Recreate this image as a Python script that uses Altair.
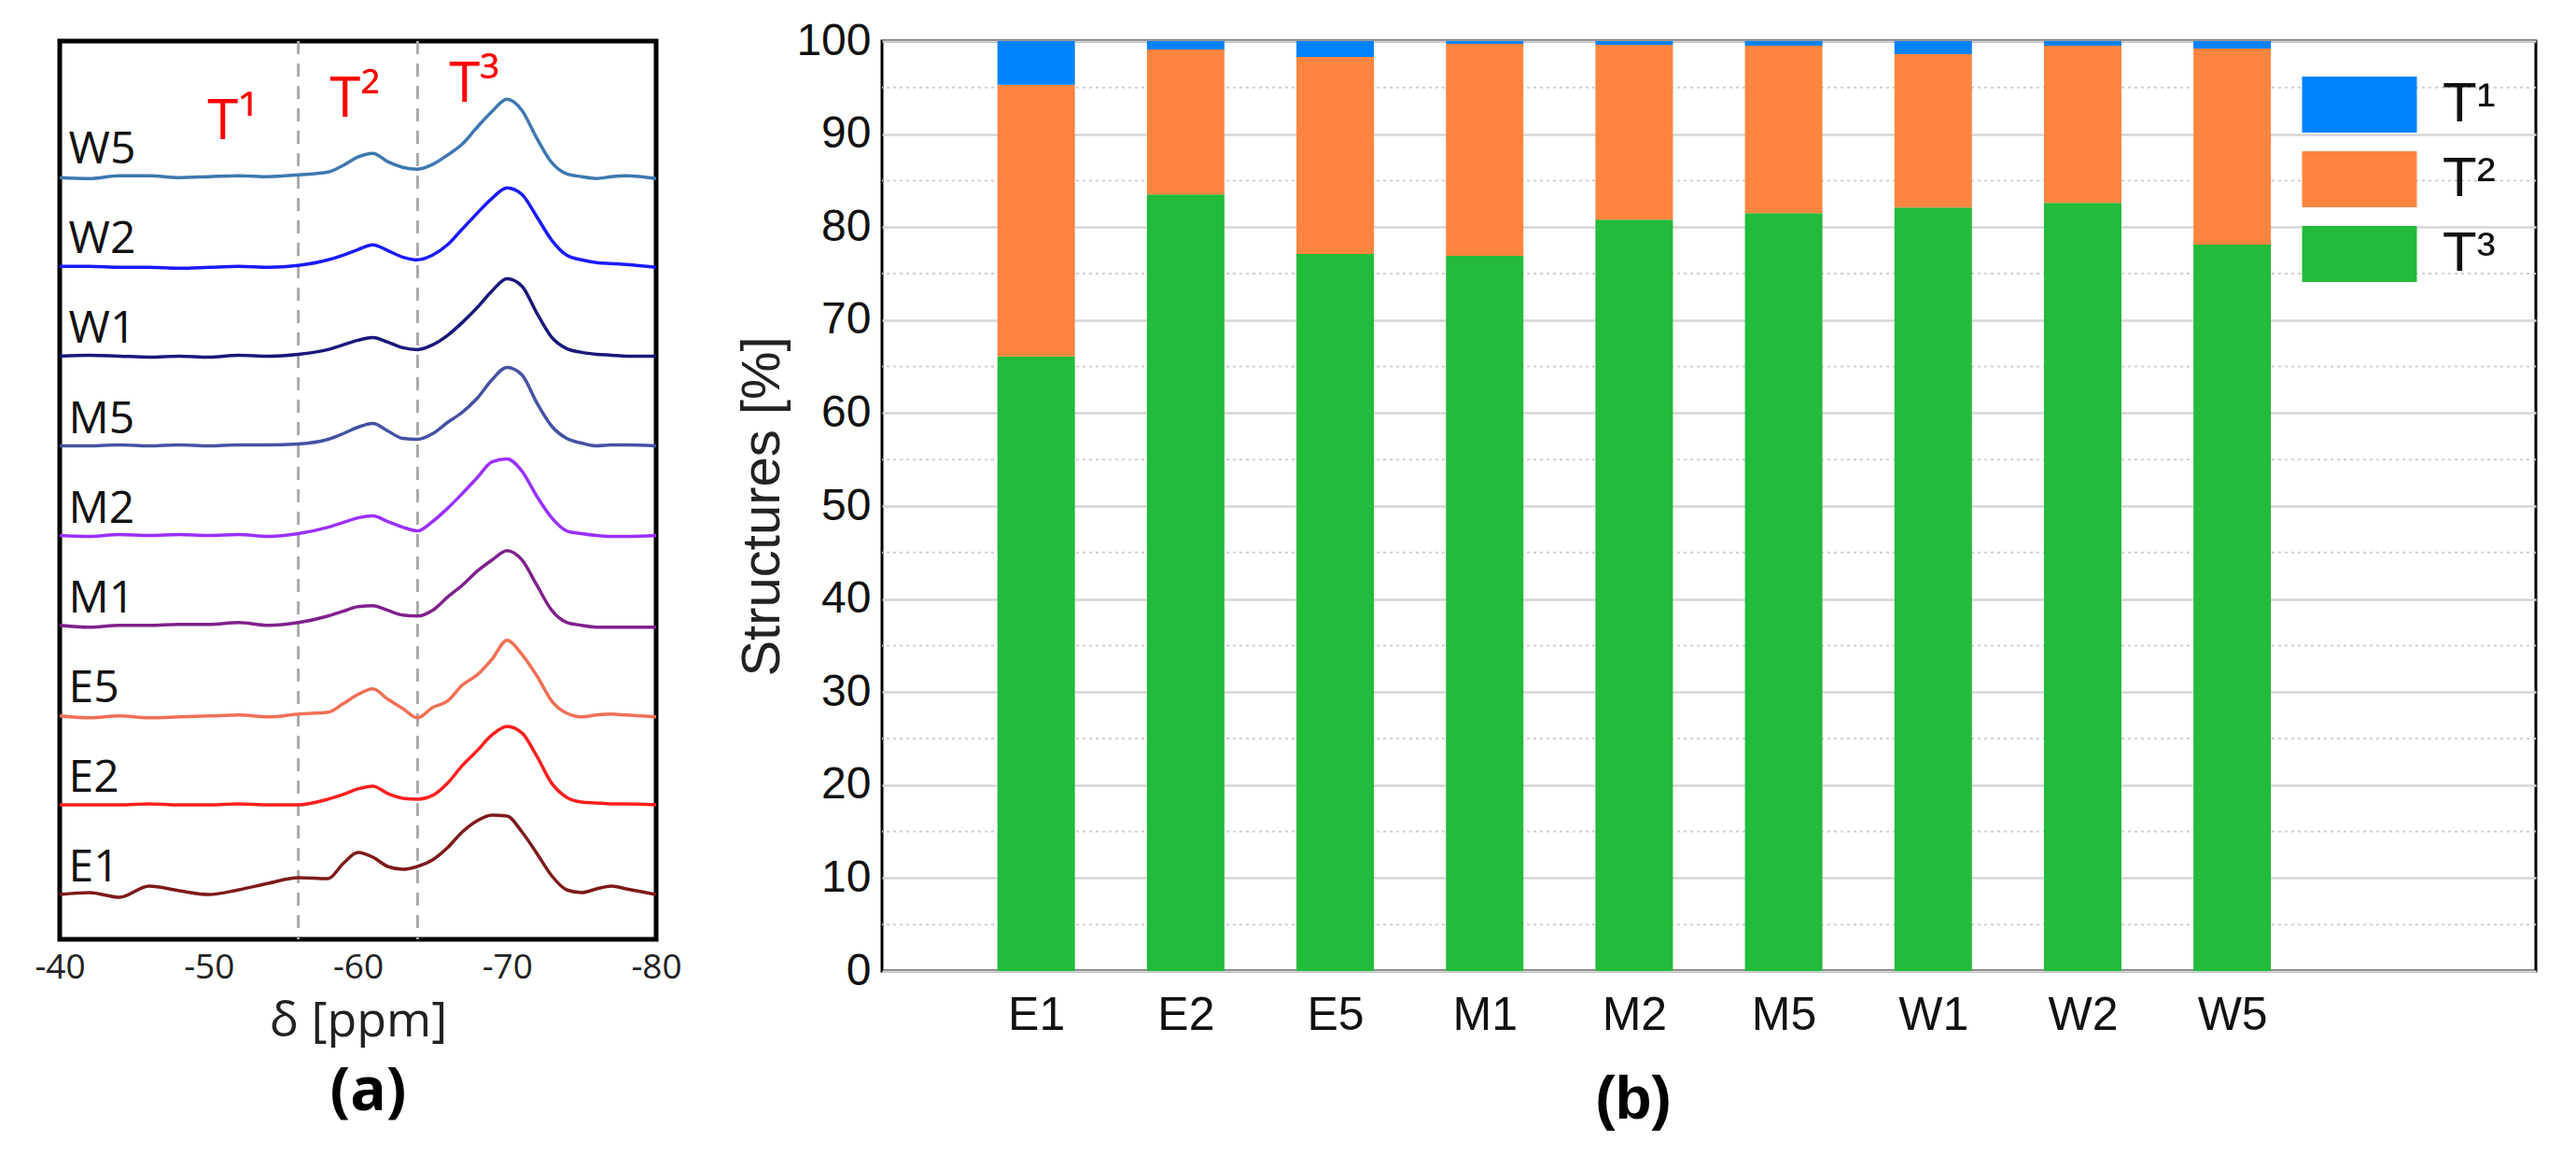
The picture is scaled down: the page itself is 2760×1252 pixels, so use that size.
import altair as alt
import pandas as pd

# ---------------- Panel (a): 29Si NMR spectra ----------------
PPM = [-40, -42, -44, -46, -48, -50, -52, -54, -56, -58, -59, -60, -61, -62, -63, -64,
       -65, -66, -67, -68, -69, -70, -71, -72, -73, -74, -75, -76, -77, -78, -80]

E1 = [0, 2, -3, 9, 4, 0, 5, 12, 18, 17, 33, 45, 40, 30, 27, 30, 37, 50, 67, 79, 85, 84, 67, 44, 20, 5, 2, 6, 9, 6, 0]
E2 = [0, 0, 0, 1, 0, 0, 1, 0, 0, 6, 11, 17, 20, 12, 7, 6, 10, 23, 42, 58, 75, 84, 77, 52, 23, 8, 3, 2, 1, 1, 0]
E5 = [-1, -3, -1, -3, -2, -1, 0, -2, 1, 3, 12, 22, 28, 17, 7, -3, 8, 15, 32, 43, 60, 80, 65, 42, 15, 2, -2, 0, 1, 0, -2]
M1 = [0, -2, 0, 0, 1, 1, 3, 0, 3, 10, 15, 20, 21, 16, 11, 10, 16, 30, 43, 58, 70, 80, 70, 43, 16, 3, 0, -2, -2, -2, -2]
M2 = [0, -1, 1, 0, 1, 0, 1, -1, 2, 9, 14, 19, 21, 15, 9, 5, 15, 29, 45, 62, 79, 82, 69, 42, 19, 5, 2, 0, -1, -1, 0]
M5 = [0, 0, 1, 0, 1, 0, 1, 1, 2, 7, 13, 20, 24, 16, 8, 7, 13, 25, 36, 51, 71, 84, 76, 46, 21, 8, 3, 0, 1, 1, 0]
W1 = [0, 1, 0, -1, 0, -1, 1, 0, 2, 7, 12, 17, 20, 15, 9, 7, 12, 22, 36, 52, 70, 83, 75, 46, 20, 8, 4, 2, 1, 0, 0]
W2 = [0, 0, -1, -1, -2, -1, 0, -1, 1, 7, 12, 18, 23, 17, 10, 7, 12, 23, 40, 57, 73, 84, 77, 53, 28, 12, 7, 4, 3, 2, -1]
W5 = [-1, -2, 1, 1, -1, 0, 1, 0, 2, 5, 12, 21, 25, 16, 10, 8, 13, 23, 35, 53, 70, 83, 71, 41, 15, 3, 0, -2, 0, 1, -2]

SAMPLES = ["E1", "E2", "E5", "M1", "M2", "M5", "W1", "W2", "W5"]
SPECTRA = [E1, E2, E5, M1, M2, M5, W1, W2, W5]
LINE_COLORS = ["#7d1a1a", "#ff1f1f", "#f07055", "#80208c", "#9b30ff",
               "#4552a3", "#18187a", "#1a1aff", "#3d78b0"]

DIVIDERS = [-56, -64]
REGION_LABELS = ["T¹", "T²", "T³"]
REGION_PPM = [-51.6, -59.8, -67.8]
REGION_LEVEL = [857, 881, 897]

BASE = 48.0
STEP = 96.1
Y_MAX = 962

rows = []
for i, (name, vals) in enumerate(zip(SAMPLES, SPECTRA)):
    for p, v in zip(PPM, vals):
        rows.append({"sample": name, "ppm": p, "y": BASE + STEP * i + v, "ord": i})
df_a = pd.DataFrame(rows)

lab_a = pd.DataFrame({"sample": SAMPLES,
                      "ppm": [-40.6] * len(SAMPLES),
                      "y": [BASE + STEP * i + 14 for i in range(len(SAMPLES))]})
div_df = pd.DataFrame({"ppm": DIVIDERS})
reg_df = pd.DataFrame({"t": REGION_LABELS, "ppm": REGION_PPM, "y": REGION_LEVEL})

xscale_a = alt.Scale(domain=[-80, -40], reverse=True, nice=False, zero=False)
xa = alt.X("ppm:Q", scale=xscale_a,
           axis=alt.Axis(values=[-40, -50, -60, -70, -80], labelExpr="datum.value + ''",
                         grid=False, ticks=False, domain=False,
                         labelFlush=False, labelOverlap=False, labelFont="Open Sans",
                         labelFontSize=37, labelColor="#222", labelPadding=12,
                         title="δ [ppm]", titleFont="Open Sans", titleFontSize=52,
                         titleFontWeight="normal", titleColor="#222", titlePadding=14))
ya = alt.Y("y:Q", scale=alt.Scale(domain=[0, Y_MAX], nice=False, zero=False), axis=None)

dividers = alt.Chart(div_df).mark_rule(color="#aaaaaa", strokeWidth=3, strokeDash=[14, 10]).encode(
    x=alt.X("ppm:Q", scale=xscale_a))

lines = alt.Chart(df_a).mark_line(strokeWidth=3.5, interpolate="monotone").encode(
    x=xa, y=ya,
    color=alt.Color("sample:N", scale=alt.Scale(domain=SAMPLES, range=LINE_COLORS), legend=None),
    detail="sample:N")

names = alt.Chart(lab_a).mark_text(align="left", baseline="alphabetic", font="Open Sans",
                                   fontSize=48, color="#111").encode(
    x="ppm:Q", y="y:Q", text="sample:N")

regions = alt.Chart(reg_df).mark_text(align="center", baseline="alphabetic", font="Open Sans",
                                      fontSize=60, color="#ff0000").encode(
    x="ppm:Q", y="y:Q", text="t:N")

panel_a = alt.layer(dividers, lines, names, regions).properties(
    width=639, height=962,
    view=alt.ViewBackground(stroke="black", strokeWidth=5),
    title=alt.TitleParams("(a)", orient="bottom", anchor="middle", font="Open Sans",
                          fontSize=64, fontWeight="bold", color="black", dx=11, offset=19))

# ---------------- Panel (b): stacked structure fractions ----------------
CATS = ["E1", "E2", "E5", "M1", "M2", "M5", "W1", "W2", "W5"]
T3 = [66.1, 83.5, 77.1, 76.9, 80.8, 81.5, 82.1, 82.6, 78.1]
T2 = [29.2, 15.6, 21.2, 22.8, 18.8, 18.0, 16.5, 16.9, 21.1]
T1 = [4.7, 0.9, 1.7, 0.3, 0.4, 0.5, 1.4, 0.5, 0.8]

STRUCTS = ["T¹", "T²", "T³"]
BAR_COLORS = ["#0082ff", "#fd853f", "#22bb3a"]
MAJOR = list(range(0, 101, 10))
MINOR = list(range(5, 100, 10))

rows = []
for i, c in enumerate(CATS):
    for s, v, o in (("T³", T3[i], 0), ("T²", T2[i], 1), ("T¹", T1[i], 2)):
        rows.append({"cat": c, "pos": i + 1, "struct": s, "value": v, "ord": o})
df_b = pd.DataFrame(rows)

label_expr = "[''," + ",".join("'%s'" % c for c in CATS) + ",''][datum.value]"

minor = alt.Chart(pd.DataFrame({"v": MINOR})).mark_rule(
    color="#d0d0d0", strokeWidth=2, strokeDash=[3, 4]).encode(
    y=alt.Y("v:Q", scale=alt.Scale(domain=[0, 100], nice=False)))

bars = alt.Chart(df_b).mark_bar(size=83).encode(
    x=alt.X("pos:Q", scale=alt.Scale(domain=[0, 11], nice=False, zero=False),
            axis=alt.Axis(values=list(range(1, 10)), labelExpr=label_expr, grid=False,
                          ticks=False, domain=False, labelFont="Liberation Sans",
                          labelFontSize=50, labelColor="#111", labelPadding=22, title=None)),
    y=alt.Y("value:Q", stack="zero", scale=alt.Scale(domain=[0, 100], nice=False),
            axis=alt.Axis(values=MAJOR, grid=True, gridColor="#d6d6d6", gridWidth=2.5,
                          ticks=False, domain=False, labelFont="Liberation Sans",
                          labelFontSize=48, labelColor="#111", labelPadding=12,
                          title="Structures [%]", titleFont="Liberation Sans",
                          titleFontSize=58, titleFontWeight="normal", titleColor="#222",
                          titlePadding=6)),
    color=alt.Color("struct:N", scale=alt.Scale(domain=STRUCTS, range=BAR_COLORS),
                    legend=alt.Legend(title=None, orient="none", legendX=1533, legendY=18,
                                      symbolType="M-1.23,-0.6H1.23V0.6H-1.23Z", symbolSize=10000,
                                      symbolStrokeWidth=0, symbolOpacity=1,
                                      labelFont="Liberation Sans", labelFontSize=60,
                                      labelColor="#111", labelOffset=39, rowPadding=0,
                                      padding=0)),
    order=alt.Order("ord:Q"))

panel_b = alt.layer(minor, bars).properties(
    width=1772, height=996,
    view=alt.ViewBackground(stroke="black", strokeWidth=3),
    title=alt.TitleParams("(b)", orient="bottom", anchor="middle", font="Liberation Sans",
                          fontSize=64, fontWeight="bold", color="black", dx=-81, offset=35))

chart = alt.hconcat(panel_a, panel_b, spacing=242, bounds="flush").resolve_scale(
    color="independent").properties(
    padding={"left": 26, "top": 10, "right": 10, "bottom": 10},
    background="white")

chart.save("out.html", embed_options={"renderer": "svg", "actions": False})
